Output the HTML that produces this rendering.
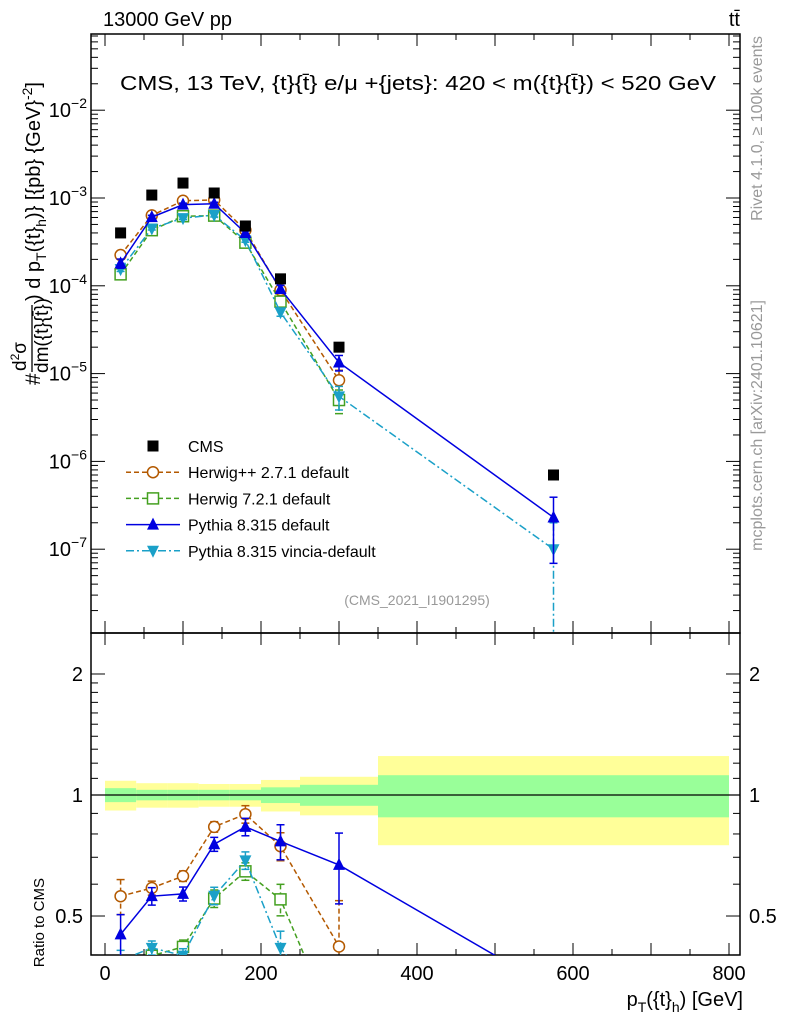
<!DOCTYPE html>
<html><head><meta charset="utf-8"><style>
html,body{margin:0;padding:0;background:#fff;overflow:hidden;width:786px;height:1024px;}
svg{display:block;font-family:"Liberation Sans",sans-serif;}
</style></head><body>
<svg id="c" width="786" height="1024" viewBox="0 0 786 1024" xmlns="http://www.w3.org/2000/svg"></svg>
<script>
const xCenters=[20,60,100,140,180,225,300,575];
const binEdges=[0,40,80,120,160,200,250,350,800];
const cmsVals=[4.0e-4,1.08e-3,1.48e-3,1.14e-3,4.8e-4,1.2e-4,2.0e-5,7.0e-7];
const bandTot=[0.085,0.07,0.07,0.065,0.065,0.09,0.11,0.25];
const bandStat=[0.04,0.03,0.03,0.03,0.03,0.045,0.06,0.12];
const herwigppVals=[2.24e-4,6.34e-4,9.3e-4,9.5e-4,4.3e-4,8.95e-5,8.4e-6,null];
const herwigppErr=[0.1,0.04,0.03,0.03,0.05,0.08,0.3,null];
const herwig7Vals=[1.35e-4,4.3e-4,6.2e-4,6.3e-4,3.1e-4,6.6e-5,5.0e-6,null];
const herwig7Err=[0.06,0.04,0.04,0.05,0.05,0.09,0.3,null];
const pythiaVals=[1.8e-4,6.05e-4,8.4e-4,8.6e-4,4.0e-4,9.2e-5,1.34e-5,2.3e-7];
const pythiaErr=[0.12,0.05,0.04,0.04,0.05,0.1,0.2,0.7];
const vinciaVals=[1.55e-4,4.5e-4,5.9e-4,6.4e-4,3.3e-4,5.0e-5,5.5e-6,1.0e-7];
const vinciaErr=[0.06,0.04,0.04,0.05,0.05,0.1,0.3,1.0];

const NS="http://www.w3.org/2000/svg";
const svg=document.getElementById('c');
const L=91,R=740,T=34,MB=633,RB=955;
function X(v){return 105+v*0.78;}
function Ym(v){return 198-87.8*(Math.log10(v)+3);}
function Yr(v){return 795-402*Math.log10(v);}
function el(tag,attrs,parent){const e=document.createElementNS(NS,tag);for(const k in attrs)e.setAttribute(k,attrs[k]);(parent||svg).appendChild(e);return e;}
function txt(s,x,y,size,anchor,fill,parent){const t=el('text',{x:x,y:y,'font-size':size,'text-anchor':anchor||'start',fill:fill||'#000'},parent);t.textContent=s;return t;}

const defs=el('defs',{});
const cp1=el('clipPath',{id:'cm'},defs);el('rect',{x:L,y:T,width:R-L,height:MB-T},cp1);
const cp2=el('clipPath',{id:'cr'},defs);el('rect',{x:L,y:MB,width:R-L,height:RB-MB},cp2);

const bands=el('g',{'clip-path':'url(#cr)'});


for(let i=0;i<xCenters.length;i++){
  const x0=X(binEdges[i]),x1=X(binEdges[i+1]);
  const y=el('rect',{x:x0,y:Yr(1+bandTot[i]),width:x1-x0,height:Yr(1-bandTot[i])-Yr(1+bandTot[i]),fill:'#ffff99'},bands);
  
  
  const g=el('rect',{x:x0,y:Yr(1+bandStat[i]),width:x1-x0,height:Yr(1-bandStat[i])-Yr(1+bandStat[i]),fill:'#99ff99'},bands);
  
  
}
el('line',{x1:L,x2:R,y1:Yr(1),y2:Yr(1),stroke:'#000','stroke-width':1.2});

el('rect',{x:L,y:T,width:R-L,height:MB-T,fill:'none',stroke:'#000','stroke-width':1.5});
el('rect',{x:L,y:MB,width:R-L,height:RB-MB,fill:'none',stroke:'#000','stroke-width':1.5});

for(let v=0;v<=800;v+=50){
  const big=v%100===0, len=big?12:6;
  const x=X(v);
  el('line',{x1:x,x2:x,y1:MB,y2:MB-len,stroke:'#000'});
  el('line',{x1:x,x2:x,y1:T,y2:T+len,stroke:'#000'});
  el('line',{x1:x,x2:x,y1:RB,y2:RB-len,stroke:'#000'});
  el('line',{x1:x,x2:x,y1:MB,y2:MB+len,stroke:'#000'});
  if(v%200===0){const t=txt(String(v),x,980,20,'middle');}
}
for(let d=-8;d<=-1;d++){
  for(let m=1;m<10;m++){
    const v=m*Math.pow(10,d);const y=Ym(v);
    if(y<T||y>MB)continue;
    const len=m===1?14:7;
    el('line',{x1:L,x2:L+len,y1:y,y2:y,stroke:'#000'});
    el('line',{x1:R,x2:R-len,y1:y,y2:y,stroke:'#000'});
    if(m===1){
      const t=el('text',{x:L-4,y:y+7,'font-size':20,'text-anchor':'end'});
      
      
      t.innerHTML='10<tspan dy="-9" font-size="14">−'+(-d)+'</tspan>';
    }
  }
}
const rt=[0.4,0.5,0.6,0.7,0.8,0.9,1,1.1,1.2,1.3,1.4,1.5,1.6,1.7,1.8,1.9,2];
rt.forEach(v=>{const y=Yr(v);const big=(v===0.5||v===1||v===2);const len=big?14:7;
  el('line',{x1:L,x2:L+len,y1:y,y2:y,stroke:'#000'});el('line',{x1:R,x2:R-len,y1:y,y2:y,stroke:'#000'});
  if(big){const s=String(v);txt(s,L-8,y+7,20,'end');txt(s,R+9,y+7,20,'start');}});

function drawSeries(name,vals,errs,color,dash,marker,isRatio){
  const g=el('g',{'clip-path':isRatio?'url(#cr)':'url(#cm)'});
  
  
  const Y=isRatio?Yr:Ym;
  const pts=[];
  for(let i=0;i<xCenters.length;i++){
    if(vals[i]==null)continue;
    const v=isRatio?vals[i]/cmsVals[i]:vals[i];
    pts.push([X(xCenters[i]),Y(v),v,errs[i]]);
  }
  el('polyline',{points:pts.map(p=>p[0]+','+p[1]).join(' '),fill:'none',stroke:color,'stroke-width':1.5,'stroke-dasharray':dash},g);
  pts.forEach(p=>{
    const e=p[3]; const lo=Math.max(p[2]*(1-e),1e-12);
    if(!(isRatio&&p[2]<0.38)){
      el('line',{x1:p[0],x2:p[0],y1:Y(p[2]*(1+e)),y2:Y(lo),stroke:color,'stroke-width':1.5,'stroke-dasharray':dash},g);
      el('line',{x1:p[0]-4,x2:p[0]+4,y1:Y(p[2]*(1+e)),y2:Y(p[2]*(1+e)),stroke:color,'stroke-width':1.5},g);
      el('line',{x1:p[0]-4,x2:p[0]+4,y1:Y(lo),y2:Y(lo),stroke:color,'stroke-width':1.5},g);
    }
    const m=drawMarker(marker,p[0],p[1],color,g);
    
    
  });
}
function drawMarker(type,x,y,c,g){
  if(type==='circle')return el('circle',{cx:x,cy:y,r:5.5,fill:'#fff',stroke:c,'stroke-width':1.5},g);
  if(type==='square')return el('rect',{x:x-5.5,y:y-5.5,width:11,height:11,fill:'#fff',stroke:c,'stroke-width':1.5},g);
  if(type==='up')return el('polygon',{points:`${x},${y-7} ${x-6},${y+5} ${x+6},${y+5}`,fill:c},g);
  if(type==='down')return el('polygon',{points:`${x},${y+7} ${x-6},${y-5} ${x+6},${y-5}`,fill:c},g);
  return el('rect',{x:x-5.5,y:y-5.5,width:11,height:11,fill:c},g);
}
const series=[
 ['herwigpp',herwigppVals,herwigppErr,'#b35900','5,3','circle'],
 ['herwig7',herwig7Vals,herwig7Err,'#44a020','5,3','square'],
 ['vincia',vinciaVals,vinciaErr,'#1aa0c8','8,3,2,3','down'],
 ['pythia',pythiaVals,pythiaErr,'#0000e0','','up']];
series.forEach(s=>{drawSeries(s[0],s[1],s[2],s[3],s[4],s[5],false);drawSeries(s[0],s[1],s[2],s[3],s[4],s[5],true);});
const cg=el('g',{'clip-path':'url(#cm)'});


for(let i=0;i<xCenters.length;i++){
  const m=drawMarker('sq',X(xCenters[i]),Ym(cmsVals[i]),'#000',cg);
  
  
}

const leg=[['CMS','#000','','sq'],['Herwig++ 2.7.1 default','#b35900','5,3','circle'],['Herwig 7.2.1 default','#44a020','5,3','square'],['Pythia 8.315 default','#0000e0','','up'],['Pythia 8.315 vincia-default','#1aa0c8','8,3,2,3','down']];
leg.forEach((l,i)=>{
  const y=446+i*26.2;
  const g=el('g',{});
  
  
  if(i>0)el('line',{x1:126,x2:180,y1:y,y2:y,stroke:l[1],'stroke-width':1.5,'stroke-dasharray':l[2]},g);
  drawMarker(l[3],153,y,l[1],g);
  txt(l[0],188,y+6,16,'start','#000',g);
});

let t;
t=txt('13000 GeV pp',103,26,20);
t=el('text',{x:740,y:26,'font-size':20,'text-anchor':'end'});t.innerHTML='tt̄';
t=el('text',{x:120,y:90,'font-size':20,textLength:596,lengthAdjust:'spacingAndGlyphs'});t.textContent='CMS, 13 TeV, {t}{t̄} e/μ +{jets}: 420 < m({t}{t̄}) < 520 GeV';
t=txt('(CMS_2021_I1901295)',417,605,14,'middle','#999');
t=el('text',{x:0,y:0,'font-size':20,'text-anchor':'end',transform:'translate(743,1006)'});t.innerHTML='p<tspan dy="6" font-size="14">T</tspan><tspan dy="-6">({t}</tspan><tspan dy="6" font-size="14">h</tspan><tspan dy="-6">) [GeV]</tspan>';
t=txt('Ratio to CMS',0,0,15,'end');t.setAttribute('transform','translate(44,878) rotate(-90)');
const yt=el('g',{transform:'translate(40,385) rotate(-90)'});


txt('#',0,0,21,'start','#000',yt);
t=el('text',{x:14,y:-14,'font-size':19},yt);t.innerHTML='d<tspan dy="-7" font-size="12">2</tspan><tspan dy="7">σ</tspan>';
el('line',{x1:13,x2:80,y1:-8,y2:-8,stroke:'#000','stroke-width':1.3},yt);
txt('dm({t}{t̄})',12,8,19,'start','#000',yt);
t=el('text',{x:84,y:0,'font-size':20},yt);t.innerHTML=') d p<tspan dy="6" font-size="14">T</tspan><tspan dy="-6">({t}</tspan><tspan dy="6" font-size="14">h</tspan><tspan dy="-6">)} [{pb} {GeV}</tspan><tspan dy="-8" font-size="14">-2</tspan><tspan dy="8">]</tspan>';
t=txt('Rivet 4.1.0, ≥ 100k events',0,0,16,'end','#999');t.setAttribute('transform','translate(762,36) rotate(-90)');
t=txt('mcplots.cern.ch [arXiv:2401.10621]',0,0,16,'end','#999');t.setAttribute('transform','translate(762,300) rotate(-90)');
</script>
</body></html>
